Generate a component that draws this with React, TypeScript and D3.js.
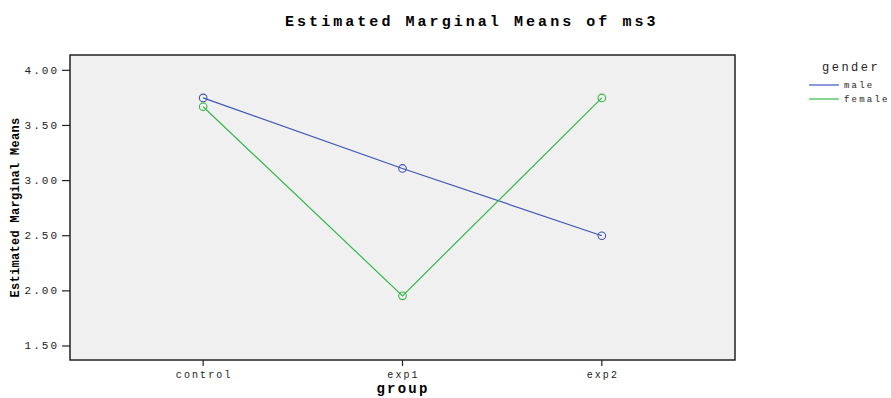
import React from "react";
import * as d3 from "d3";

const groups = ["control", "exp1", "exp2"];
const seriesNames = ["male", "female"];
const maleValues = [3.75, 3.11, 2.5];
const femaleValues = [3.67, 1.955, 3.75];
const yTicks = [1.5, 2.0, 2.5, 3.0, 3.5, 4.0];
const colors = ["#3d55b8", "#36b84a"];

const W = 891;
const H = 398;
const plot = { left: 70, right: 735, top: 55, bottom: 360 };
const FONT = "'Liberation Mono', 'Courier New', monospace";

export default function App() {
  const x = d3
    .scalePoint<string>()
    .domain(groups)
    .range([plot.left, plot.right])
    .padding(0.668);
  const y = d3
    .scaleLinear()
    .domain([1.373, 4.139])
    .range([plot.bottom, plot.top]);

  const series = [maleValues, femaleValues];
  const line = d3
    .line<number>()
    .x((_, i) => x(groups[i]) as number)
    .y((d) => y(d));

  return (
    <svg
      width={W}
      height={H}
      style={{ position: "absolute", left: 0, top: 0, background: "#fff" }}
    >
      <text
        x={285}
        y={26}
        fontFamily={FONT}
        fontWeight="bold"
        fontSize={15}
        letterSpacing={3.05}
        fill="#000"
      >
        Estimated Marginal Means of ms3
      </text>

      <rect
        x={plot.left}
        y={plot.top}
        width={plot.right - plot.left}
        height={plot.bottom - plot.top}
        fill="#f0f0f0"
        stroke="#222"
        strokeWidth={1.5}
      />

      {yTicks.map((t) => (
        <g key={t}>
          <line
            x1={plot.left - 8}
            x2={plot.left}
            y1={y(t)}
            y2={y(t)}
            stroke="#222"
            strokeWidth={1.2}
          />
          <text
            x={plot.left - 11}
            y={y(t) + 3.5}
            textAnchor="end"
            fontFamily={FONT}
            fontSize={11}
            letterSpacing={2.0}
            fill="#222"
          >
            {t.toFixed(2)}
          </text>
        </g>
      ))}

      {groups.map((g) => (
        <g key={g}>
          <line
            x1={x(g)}
            x2={x(g)}
            y1={plot.bottom}
            y2={plot.bottom + 6}
            stroke="#222"
            strokeWidth={1.2}
          />
          <text
            x={(x(g) as number) + 1}
            y={plot.bottom + 18}
            textAnchor="middle"
            fontFamily={FONT}
            fontSize={10}
            letterSpacing={2.1}
            fill="#222"
          >
            {g}
          </text>
        </g>
      ))}

      <text
        x={403}
        y={393}
        textAnchor="middle"
        fontFamily={FONT}
        fontWeight="bold"
        fontSize={14}
        letterSpacing={2.2}
        fill="#000"
      >
        group
      </text>

      <text
        transform={`translate(19, ${(plot.top + plot.bottom) / 2}) rotate(-90)`}
        textAnchor="middle"
        fontFamily={FONT}
        fontWeight="bold"
        fontSize={12}
        letterSpacing={0.3}
        fill="#000"
      >
        Estimated Marginal Means
      </text>

      {series.map((vals, si) => (
        <g key={seriesNames[si]}>
          <path
            d={line(vals) as string}
            fill="none"
            stroke={colors[si]}
            strokeWidth={1.2}
          />
          {vals.map((v, i) => (
            <circle
              key={i}
              cx={x(groups[i])}
              cy={y(v)}
              r={3.8}
              fill="none"
              stroke={colors[si]}
              strokeWidth={1.1}
            />
          ))}
        </g>
      ))}

      <text
        x={822}
        y={71}
        fontFamily={FONT}
        fontSize={12}
        letterSpacing={2.5}
        fill="#222"
      >
        gender
      </text>
      {seriesNames.map((n, i) => (
        <g key={n}>
          <line
            x1={809}
            x2={839}
            y1={85 + i * 14}
            y2={85 + i * 14}
            stroke={colors[i]}
            strokeWidth={1.2}
          />
          <text
            x={844}
            y={88 + i * 14}
            fontFamily={FONT}
            fontSize={9}
            letterSpacing={2.2}
            fill="#222"
          >
            {n}
          </text>
        </g>
      ))}
    </svg>
  );
}
